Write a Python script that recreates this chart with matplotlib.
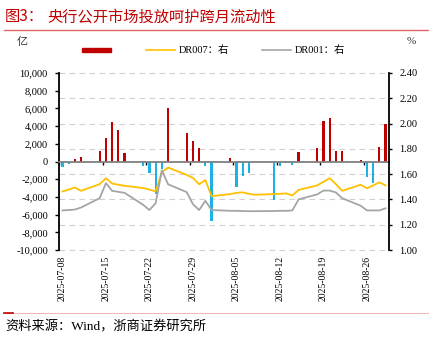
import matplotlib
matplotlib.use("Agg")
import matplotlib.pyplot as plt
import matplotlib.dates as mdates
from matplotlib.ticker import FuncFormatter, FixedLocator
from matplotlib.lines import Line2D
from matplotlib.patches import Rectangle
import pandas as pd

# ---------------- data ----------------
dates = ["2025-07-08", "2025-07-09", "2025-07-10", "2025-07-11",
         "2025-07-14", "2025-07-15", "2025-07-16", "2025-07-17", "2025-07-18",
         "2025-07-21", "2025-07-22", "2025-07-23", "2025-07-24", "2025-07-25",
         "2025-07-28", "2025-07-29", "2025-07-30", "2025-07-31", "2025-08-01",
         "2025-08-04", "2025-08-05", "2025-08-06", "2025-08-07", "2025-08-08",
         "2025-08-11", "2025-08-12", "2025-08-13", "2025-08-14", "2025-08-15",
         "2025-08-18", "2025-08-19", "2025-08-20", "2025-08-21", "2025-08-22",
         "2025-08-25", "2025-08-26", "2025-08-27", "2025-08-28", "2025-08-29"]

net_injection = [-600, -250, 300, 470,
                 1150, 2690, 4430, 3600, 1000,
                 -540, -1260, -3700, -800, 6000,
                 3220, 2320, 1560, -470, -6700,
                 450, -2920, -1670, -1260, 0,
                 -4350, -470, -200, -360, 1110,
                 1520, 4630, 4950, 1200, 1200,
                 130, -1790, -2400, 1600, 4200]

dr007 = [1.463, 1.478, 1.494, 1.468,
         1.521, 1.568, 1.526, 1.516, 1.508,
         1.490, 1.478, 1.463, 1.616, 1.652,
         1.594, 1.571, 1.520, 1.553, 1.426,
         1.442, 1.452, 1.456, 1.444, 1.437,
         1.442, 1.445, 1.447, 1.432, 1.475,
         1.511, 1.539, 1.568, 1.521, 1.468,
         1.516, 1.488, 1.511, 1.535, 1.511]

dr001 = [1.313, 1.316, 1.320, 1.336,
         1.410, 1.529, 1.468, 1.460, 1.452,
         1.357, 1.316, 1.370, 1.630, 1.520,
         1.458, 1.363, 1.316, 1.389, 1.316,
         1.310, 1.310, 1.308, 1.307, 1.307,
         1.308, 1.310, 1.310, 1.313, 1.400,
         1.440, 1.470, 1.470, 1.455, 1.410,
         1.350, 1.313, 1.313, 1.313, 1.330]

tick_dates = ["2025-07-08", "2025-07-15", "2025-07-22", "2025-07-29",
              "2025-08-05", "2025-08-12", "2025-08-19", "2025-08-26"]

left_ticks = list(range(-10000, 10001, 2000))
right_ticks = [1.00, 1.20, 1.40, 1.60, 1.80, 2.00, 2.20, 2.40]

# ---------------- style ----------------
RED = "#C00000"
BLUE = "#1DB1E6"
YELLOW = "#FFC000"
GREY = "#A5A5A5"
SERIF = ["Liberation Serif", "Noto Sans CJK SC"]
CJK = ["Noto Sans CJK SC", "DejaVu Sans"]

W, H = 429, 337
fig = plt.figure(figsize=(W / 100, H / 100), dpi=100)
fig.patch.set_facecolor("white")

def fx(px):
    return px / W

def fy(py):
    return 1 - py / H

ax = fig.add_axes([fx(59), fy(250), fx(330), 177 / H])
ax2 = ax.twinx()

x = mdates.date2num(pd.to_datetime(dates))
xt = mdates.date2num(pd.to_datetime(tick_dates))

# bars
colors = [RED if v >= 0 else BLUE for v in net_injection]
ax.bar(x, net_injection, width=0.36, color=colors, zorder=2)
ax.set_ylim(-10000, 10000)
ax.set_xlim(x[0] - 0.55, x[-1] + 0.55)
ax.set_yticks(left_ticks)
ax.yaxis.set_major_formatter(FuncFormatter(lambda v, p: f"{v:,.0f}"))
for lab in ax.get_yticklabels():
    lab.set_fontfamily(SERIF)
    lab.set_fontsize(7.5)
ax.tick_params(axis="y", length=3, width=1, direction="out", pad=5)

# gridlines at right-axis ticks (mapped to left scale)
l0, l1 = ax.get_ylim()
r0, r1 = right_ticks[0], right_ticks[-1]
for t in right_ticks:
    yv = l0 + (t - r0) / (r1 - r0) * (l1 - l0)
    ax.axhline(yv, color="#D0D0D0", lw=0.8, ls=(0, (5, 4)), zorder=0, clip_on=False)

# spines
for s in ["top", "right"]:
    ax.spines[s].set_visible(False)
ax.spines["left"].set_color("black")
ax.spines["left"].set_linewidth(1.3)
ax.spines["bottom"].set_position(("data", 0))
ax.spines["bottom"].set_color("#7F7F7F")
ax.spines["bottom"].set_linewidth(1.3)
ax.spines["bottom"].set_zorder(3)

ax.xaxis.set_major_locator(FixedLocator(list(xt - 0.5)))
ax.tick_params(axis="x", length=2.5, width=1, color="black", direction="out",
               labelbottom=False)

sec = ax.secondary_xaxis("bottom")
sec.set_xticks(list(xt))
sec.set_xticklabels([d for d in tick_dates], rotation=90, fontfamily=SERIF, fontsize=7)
sec.tick_params(axis="x", length=0, pad=4)
sec.spines["bottom"].set_visible(False)

# lines
ax2.plot(x, dr007, color=YELLOW, lw=1.3, zorder=3)
ax2.plot(x, dr001, color=GREY, lw=1.3, zorder=3)
ax2.set_ylim(1.0, 2.4)
ax2.set_yticks(right_ticks)
ax2.yaxis.set_major_formatter(FuncFormatter(lambda v, p: f"{v:.2f}"))
for lab in ax2.get_yticklabels():
    lab.set_fontfamily(SERIF)
    lab.set_fontsize(7.5)
ax2.tick_params(axis="y", length=2.5, width=1, direction="out", pad=5)
for s in ["top", "left", "bottom"]:
    ax2.spines[s].set_visible(False)
ax2.spines["right"].set_color("black")
ax2.spines["right"].set_linewidth(1.3)

# axis unit labels
fig.text(fx(22), fy(42), "亿", fontsize=8, family=CJK, ha="center", va="center", color="#333333")
fig.text(fx(411), fy(42), "%", fontsize=8, family=SERIF, ha="center", va="center", color="#333333")

# legend (manual)
fig.add_artist(Rectangle((fx(82), fy(52)), fx(29), 4.5 / H, color=RED, transform=fig.transFigure))
fig.add_artist(Line2D([fx(146), fx(175)], [fy(50), fy(50)], color=YELLOW, lw=1.2, transform=fig.transFigure))
fig.text(fx(179), fy(50), "DR007：右", fontsize=7.5, family=SERIF, ha="left", va="center")
fig.add_artist(Line2D([fx(262), fx(291)], [fy(50), fy(50)], color=GREY, lw=1.2, transform=fig.transFigure))
fig.text(fx(295), fy(50), "DR001：右", fontsize=7.5, family=SERIF, ha="left", va="center")

# title
fig.text(fx(5), fy(17), "图3：", fontsize=11, family=CJK, color=RED, ha="left", va="center")
fig.text(fx(47), fy(17), "央行公开市场投放呵护跨月流动性", fontsize=11, family=CJK,
         color=RED, ha="left", va="center")
fig.add_artist(Line2D([fx(4), fx(428)], [fy(29.5), fy(29.5)], color="#E06666", lw=1.0,
                      transform=fig.transFigure))

# footer
fig.add_artist(Line2D([fx(4), fx(428)], [fy(312.7), fy(312.7)], color="#F0B8B8", lw=0.8,
                      transform=fig.transFigure))
fig.add_artist(Line2D([fx(4), fx(13)], [fy(312.7), fy(312.7)], color=RED, lw=1.2,
                      transform=fig.transFigure))
fig.text(fx(5), fy(327), "资料来源：Wind，浙商证券研究所", fontsize=9.5, family=SERIF,
         ha="left", va="center")

fig.savefig("out.png", dpi=100, facecolor="white")
